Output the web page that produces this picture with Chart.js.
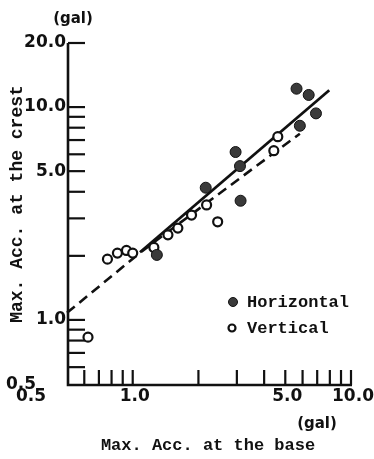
<!DOCTYPE html>
<html>
<head>
<meta charset="utf-8">
<script src="https://cdn.jsdelivr.net/npm/chart.js@4"></script>
<style>
  html, body { margin: 0; padding: 0; background: #fff; }
  #wrap { width: 374px; height: 459px; }
</style>
</head>
<body>
<div id="wrap"><canvas id="chart" width="374" height="459"></canvas></div>
<script>
// values (gal)
const horizontalX = [5.63, 6.40, 6.91, 5.83, 2.96, 3.10, 2.16, 3.12, 1.29];
const horizontalY = [12.2, 11.4, 9.34, 8.17, 6.15, 5.28, 4.18, 3.63, 2.02];
const verticalX = [0.624, 0.766, 0.851, 0.936, 1.0, 1.25, 1.45, 1.61, 1.86, 2.18, 2.45, 4.43, 4.62];
const verticalY = [0.83, 1.93, 2.06, 2.12, 2.06, 2.19, 2.51, 2.70, 3.11, 3.47, 2.89, 6.24, 7.26];
const solidX = [1.08, 7.95];
const solidY = [2.08, 12.0];
const dashedX = [0.5, 1.1, 5.83];
const dashedY = [1.08, 2.1, 7.5];

const xTicks = [0.6, 0.7, 0.8, 0.9, 1, 2, 3, 4, 5, 6, 7, 8, 9, 10];
const yTicks = [0.6, 0.7, 0.8, 0.9, 1, 2, 3, 4, 5, 6, 7, 8, 9, 10, 20];
const xLabels = [[1, '1.0'], [5, '5.0'], [10, '10.0']];
const yLabels = [[20, '20.0'], [10, '10.0'], [5, '5.0'], [1, '1.0']];

const zip = (xs, ys) => xs.map((x, i) => ({ x: x, y: ys[i] }));

const tickFont = 'bold 17px "DejaVu Sans", sans-serif';
const monoFont = 'bold 17px "Liberation Mono", "DejaVu Sans Mono", monospace';

const axesPlugin = {
  id: 'axesPlugin',
  afterDraw(chart) {
    const ctx = chart.ctx;
    const xs = chart.scales.x, ys = chart.scales.y;
    const left = xs.getPixelForValue(0.5) + 1;
    const bottom = ys.getPixelForValue(0.5) + 1;
    const right = xs.getPixelForValue(10);
    const top = ys.getPixelForValue(20);
    ctx.save();
    ctx.strokeStyle = '#111';
    ctx.fillStyle = '#111';
    ctx.lineCap = 'butt';

    // axis lines
    ctx.lineWidth = 2.6;
    ctx.beginPath();
    ctx.moveTo(left, top);
    ctx.lineTo(left, bottom);
    ctx.lineTo(right + 1, bottom);
    ctx.stroke();

    // ticks (inside)
    ctx.lineWidth = 2.2;
    yTicks.forEach(v => {
      const py = ys.getPixelForValue(v);
      ctx.beginPath();
      ctx.moveTo(left, py);
      ctx.lineTo(left + 17, py);
      ctx.stroke();
    });
    xTicks.forEach(v => {
      const px = xs.getPixelForValue(v);
      ctx.beginPath();
      ctx.moveTo(px, bottom);
      ctx.lineTo(px, bottom - 15);
      ctx.stroke();
    });

    // tick labels
    ctx.font = tickFont;
    ctx.textBaseline = 'middle';
    ctx.textAlign = 'right';
    yLabels.forEach(([v, t]) => ctx.fillText(t, left - 2, ys.getPixelForValue(v)));
    ctx.textAlign = 'left';
    ctx.fillText('0.5', 6, bottom);
    ctx.textAlign = 'center';
    xLabels.forEach(([v, t]) => ctx.fillText(t, xs.getPixelForValue(v) + 2, bottom + 12));
    ctx.fillText('0.5', 31, bottom + 12);

    // units
    ctx.font = 'bold 15px "DejaVu Sans", sans-serif';
    ctx.fillText('(gal)', 73, 19);
    ctx.fillText('(gal)', 317, 424);

    // axis titles
    ctx.font = monoFont;
    ctx.fillText('Max. Acc. at the base', 208, 446);
    ctx.save();
    ctx.translate(17, 204);
    ctx.rotate(-Math.PI / 2);
    ctx.font = 'bold 18px "Liberation Mono", "DejaVu Sans Mono", monospace';
    ctx.fillText('Max. Acc. at the crest', 0, 0);
    ctx.restore();

    // legend
    const hz = chart.data.datasets[0], vt = chart.data.datasets[1];
    ctx.beginPath();
    ctx.arc(233, 302, hz.pointRadius - 1, 0, Math.PI * 2);
    ctx.fillStyle = hz.pointBackgroundColor;
    ctx.fill();
    ctx.lineWidth = 1;
    ctx.strokeStyle = hz.pointBorderColor;
    ctx.stroke();
    ctx.beginPath();
    ctx.arc(232, 328, vt.pointRadius - 1, 0, Math.PI * 2);
    ctx.fillStyle = '#fff';
    ctx.fill();
    ctx.lineWidth = vt.pointBorderWidth;
    ctx.strokeStyle = vt.pointBorderColor;
    ctx.stroke();
    ctx.fillStyle = '#111';
    ctx.font = monoFont;
    ctx.textAlign = 'left';
    ctx.fillText('Horizontal', 247, 303);
    ctx.fillText('Vertical', 247, 329);
    ctx.restore();
  }
};

new Chart(document.getElementById('chart'), {
  type: 'scatter',
  data: {
    datasets: [
      {
        label: 'Horizontal',
        data: zip(horizontalX, horizontalY),
        pointRadius: 5.5,
        pointBackgroundColor: '#3a3a3a',
        pointBorderColor: '#111',
        pointBorderWidth: 1,
        showLine: false
      },
      {
        label: 'Vertical',
        data: zip(verticalX, verticalY),
        pointRadius: 4.5,
        pointBackgroundColor: '#fff',
        pointBorderColor: '#111',
        pointBorderWidth: 2.2,
        showLine: false
      },
      {
        label: 'Horizontal fit',
        data: zip(solidX, solidY),
        showLine: true,
        borderColor: '#111',
        borderWidth: 2.8,
        pointRadius: 0
      },
      {
        label: 'Vertical fit',
        data: zip(dashedX, dashedY),
        showLine: true,
        borderColor: '#111',
        borderWidth: 2.6,
        borderDash: [10, 6],
        pointRadius: 0
      }
    ]
  },
  options: {
    responsive: false,
    animation: false,
    clip: false,
    layout: { padding: { left: 67, right: 23, top: 43, bottom: 75 } },
    plugins: { legend: { display: false }, tooltip: { enabled: false } },
    scales: {
      x: { type: 'logarithmic', min: 0.5, max: 10, display: false },
      y: { type: 'logarithmic', min: 0.5, max: 20, display: false }
    }
  },
  plugins: [axesPlugin]
});
</script>
</body>
</html>
